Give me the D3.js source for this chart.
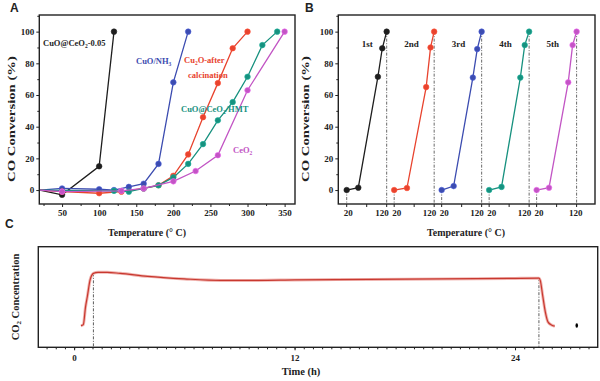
<!DOCTYPE html>
<html>
<head>
<meta charset="utf-8">
<script src="https://cdn.jsdelivr.net/npm/d3@7"></script>
<style>
  body { margin: 0; background: #fff; }
  svg text { font-family: "Liberation Serif", "DejaVu Serif", serif; font-weight: bold; }
</style>
</head>
<body>
<div id="chart"></div>
<script>
// ---- panel A: light-off curves of the five catalysts ----
var aNames  = ["CuO@CeO2-0.05", "CuO/NH3", "Cu2O-after calcination", "CuO@CeO2/HMT", "CeO2"];
var aColors = ["#1e1e1e", "#3c4cb0", "#e8432e", "#17917f", "#c255c4"];
var aTemps = [
  [20, 50, 100, 120],
  [20, 50, 100, 120, 140, 160, 180, 200, 220],
  [20, 50, 100, 130, 160, 180, 200, 220, 240, 260, 280, 300],
  [20, 120, 140, 160, 180, 200, 220, 240, 260, 280, 300, 320, 340],
  [20, 50, 130, 160, 200, 230, 260, 300, 350]
];
var aConv = [
  [0, -3, 15, 100],
  [0, 1, 0.5, 0, 2, 4, 16.5, 68, 100],
  [0, -1, -2, -1, 1, 3, 9, 22.5, 46, 67.5, 89.5, 100],
  [0, -0.5, -1, 1, 3, 8, 16.5, 29, 44, 55.5, 71.5, 91.5, 100],
  [0, -1, -0.5, 1, 5.5, 12, 22, 63, 100]
];
var aTicksX = [50, 100, 150, 200, 250, 300, 350];
var convTicks = [0, 20, 40, 60, 80, 100];

// ---- panel B: five repeated runs, each 20 -> 120 C ----
var bCycles = ["1st", "2nd", "3rd", "4th", "5th"];
var bColors = ["#1e1e1e", "#e8432e", "#3c4cb0", "#17917f", "#c255c4"];
var bTemps = [
  [20, 49, 98, 109, 120],
  [20, 52, 100, 111, 120],
  [20, 50, 98, 109, 120],
  [20, 51, 98, 109, 120],
  [20, 51, 99, 110, 120]
];
var bConv = [
  [0, 1.5, 71.5, 89.5, 100],
  [0, 1.3, 65, 90, 100],
  [0, 2.5, 71, 89, 100],
  [0, 2, 71, 91.5, 100],
  [0, 1.5, 68, 91.5, 100]
];
var bTickTemps = [20, 120];

// ---- panel C: CO2 concentration over 26 h ----
var cTime = [0.37, 0.5, 0.62, 0.72, 0.87, 1.05, 1.3, 1.8, 2.5, 4, 6, 8, 10, 12, 16, 20, 24, 25.3, 25.38, 25.5, 25.65, 25.8, 26.0, 26.16];
var cConc = [21.5, 22.5, 40, 50.5, 67, 73.5, 74.5, 74.5, 73.5, 70.5, 68, 66.5, 66.5, 67, 67.5, 68, 68.5, 68.7, 66, 52, 35, 25, 22, 21];
var cMarks = [1.05, 25.3];
var cTicks = [0, 12, 24];

var width = 600, height = 381;
var svg = d3.select("#chart").append("svg").attr("width", width).attr("height", height);

var yConv = d3.scaleLinear().domain([-8.8, 110.5]).range([204, 15]);

function frame(x0, x1, y0, y1) {
  svg.append("rect").attr("x", x0).attr("y", y0).attr("width", x1 - x0).attr("height", y1 - y0)
    .attr("fill", "none").attr("stroke", "#222").attr("stroke-width", 1.4);
}

// subscripted label helper: parts = [[text, isSub], ...]
function label(x, y, parts, color, size, anchor) {
  var t = svg.append("text").attr("x", x).attr("y", y).attr("fill", color)
    .attr("font-size", size).attr("text-anchor", anchor || "start");
  parts.forEach(function(p) {
    if (p[1]) t.append("tspan").attr("font-size", size * 0.65).attr("dy", 2).text(p[0]);
    else t.append("tspan").attr("dy", p[2] || 0).text(p[0]);
  });
  return t;
}

function yAxisConv(x0) {
  var g = svg.append("g").attr("transform", "translate(" + x0 + ",0)")
    .call(d3.axisLeft(yConv).tickValues(convTicks).tickSize(3).tickPadding(2).tickFormat(d3.format("d")));
  g.select(".domain").remove();
  g.selectAll("text").attr("font-size", 9).attr("fill", "#222").style("font-family", "Liberation Serif").style("font-weight", "bold");
  g.selectAll("line").attr("stroke", "#222");
  var m = svg.append("g").attr("transform", "translate(" + x0 + ",0)")
    .call(d3.axisLeft(yConv).tickValues([-10, 10, 30, 50, 70, 90, 110].filter(function(v){ return v > -8.8 && v < 110.5; })).tickSize(2).tickFormat(""));
  m.select(".domain").remove();
  m.selectAll("line").attr("stroke", "#222");
}

// ================= Panel A =================
var xA = d3.scaleLinear().domain([19.3, 364]).range([39.3, 295]);
var clipA = svg.append("clipPath").attr("id", "clipA").append("rect")
  .attr("x", 39.3).attr("y", 15).attr("width", 295 - 39.3).attr("height", 204 - 15);

var lineA = d3.line().x(function(d) { return xA(d[0]); }).y(function(d) { return yConv(d[1]); });
var gA = svg.append("g").attr("clip-path", "url(#clipA)");
aNames.forEach(function(name, i) {
  var pts = aTemps[i].map(function(t, j) { return [t, aConv[i][j]]; });
  gA.append("path").datum(pts).attr("d", lineA).attr("fill", "none")
    .attr("stroke", aColors[i]).attr("stroke-width", 1.3);
  gA.selectAll(null).data(pts.slice(1)).enter().append("circle")
    .attr("cx", function(d) { return xA(d[0]); }).attr("cy", function(d) { return yConv(d[1]); })
    .attr("r", 2.8).attr("fill", aColors[i]).attr("stroke", d3.color(aColors[i]).brighter(0.6)).attr("stroke-width", 0.6);
});

frame(39.3, 295, 15, 204);
yAxisConv(39.3);
var axA = svg.append("g").attr("transform", "translate(0,204)")
  .call(d3.axisBottom(xA).tickValues(aTicksX).tickSize(3).tickPadding(3));
axA.select(".domain").remove();
axA.selectAll("text").attr("font-size", 9).attr("fill", "#222").style("font-family", "Liberation Serif").style("font-weight", "bold");
axA.selectAll("line").attr("stroke", "#222");
var mA = svg.append("g").attr("transform", "translate(0,204)")
  .call(d3.axisBottom(xA).tickValues([25, 75, 125, 175, 225, 275, 325]).tickSize(2).tickFormat(""));
mA.select(".domain").remove();
mA.selectAll("line").attr("stroke", "#222");

// series labels
label(43, 46, [["CuO@CeO"], ["2", true], ["-0.05", false, -2]], aColors[0], 8.5);
label(136, 64, [["CuO/NH"], ["3", true]], aColors[1], 8.5);
label(184, 63, [["Cu"], ["2", true], ["O-after", false, -2]], aColors[2], 8.5);
label(188, 78, [["calcination"]], aColors[2], 8.5);
label(181, 112, [["CuO@CeO"], ["2", true], ["/HMT", false, -2]], aColors[3], 8.5);
label(233, 153, [["CeO"], ["2", true]], aColors[4], 8.5);

svg.append("text").attr("x", 10).attr("y", 12).attr("font-size", 12).attr("fill", "#222")
  .style("font-family", "Liberation Sans").text("A");
svg.append("text").attr("transform", "translate(15,119) rotate(-90)").attr("text-anchor", "middle")
  .attr("font-size", 11).attr("fill", "#222").attr("textLength", 126).attr("lengthAdjust", "spacingAndGlyphs")
  .text("CO Conversion (%)");
svg.append("text").attr("x", 147).attr("y", 236).attr("text-anchor", "middle")
  .attr("font-size", 10.5).attr("fill", "#222").attr("textLength", 78).attr("lengthAdjust", "spacingAndGlyphs")
  .text("Temperature (° C)");

// ================= Panel B =================
var cycleSpan = 118.75;   // one run of 100 C plus the gap to the next run
var xB = d3.scaleLinear().domain([-21, 621]).range([338.3, 595]);
function bPos(ci, t) { return xB(ci * cycleSpan + (t - 20)); }

var dash = "3,1.5,1,1.5";
bCycles.forEach(function(name, ci) {
  // dash-dot guides at the start and end temperatures
  svg.append("line").attr("x1", bPos(ci, 20)).attr("x2", bPos(ci, 20))
    .attr("y1", yConv(bConv[ci][0])).attr("y2", 204)
    .attr("stroke", "#444").attr("stroke-width", 0.8).attr("stroke-dasharray", dash);
  svg.append("line").attr("x1", bPos(ci, 120)).attr("x2", bPos(ci, 120))
    .attr("y1", yConv(100)).attr("y2", 204)
    .attr("stroke", "#444").attr("stroke-width", 0.8).attr("stroke-dasharray", dash);

  var pts = bTemps[ci].map(function(t, j) { return [bPos(ci, t), yConv(bConv[ci][j])]; });
  svg.append("path").datum(pts).attr("d", d3.line()).attr("fill", "none")
    .attr("stroke", bColors[ci]).attr("stroke-width", 1.3);
  svg.selectAll(null).data(pts).enter().append("circle")
    .attr("cx", function(d) { return d[0]; }).attr("cy", function(d) { return d[1]; })
    .attr("r", 2.8).attr("fill", bColors[ci]).attr("stroke", d3.color(bColors[ci]).brighter(0.6)).attr("stroke-width", 0.6);

  svg.append("text").attr("x", bPos(ci, 20) + 15 - (ci === 0 ? 0 : 5)).attr("y", 47)
    .attr("font-size", 9).attr("fill", "#222").text(name);

  // tick marks and labels on the bottom axis
  [20, 70, 120].forEach(function(t) {
    svg.append("line").attr("x1", bPos(ci, t)).attr("x2", bPos(ci, t)).attr("y1", 204).attr("y2", 207)
      .attr("stroke", "#222");
  });
  svg.append("text").attr("x", bPos(ci, 20) + (ci === 0 ? -3 : -2)).attr("y", 216)
    .attr("font-size", 9).attr("fill", "#222").attr("text-anchor", "start").text(String(bTickTemps[0]));
  svg.append("text").attr("x", bPos(ci, 120) + (ci === 4 ? 6 : 2)).attr("y", 216)
    .attr("font-size", 9).attr("fill", "#222").attr("text-anchor", "end").text(String(bTickTemps[1]));
});

frame(338.3, 595, 15, 204);
yAxisConv(338.3);

svg.append("text").attr("x", 305).attr("y", 12).attr("font-size", 12).attr("fill", "#222")
  .style("font-family", "Liberation Sans").text("B");
svg.append("text").attr("transform", "translate(309,119) rotate(-90)").attr("text-anchor", "middle")
  .attr("font-size", 11).attr("fill", "#222").attr("textLength", 126).attr("lengthAdjust", "spacingAndGlyphs")
  .text("CO Conversion (%)");
svg.append("text").attr("x", 466).attr("y", 236).attr("text-anchor", "middle")
  .attr("font-size", 10.5).attr("fill", "#222").attr("textLength", 78).attr("lengthAdjust", "spacingAndGlyphs")
  .text("Temperature (° C)");

// ================= Panel C =================
var xC = d3.scaleLinear().domain([-1.95, 28.5]).range([38.3, 597.7]);
var yC = d3.scaleLinear().domain([0, 100]).range([347.3, 246.7]);

cMarks.forEach(function(t) {
  var i = cTime.indexOf(t);
  svg.append("line").attr("x1", xC(t)).attr("x2", xC(t)).attr("y1", yC(cConc[i])).attr("y2", 347.3)
    .attr("stroke", "#333").attr("stroke-width", 0.8).attr("stroke-dasharray", dash);
});

var cPts = cTime.map(function(t, i) { return [t, cConc[i]]; });
var lineC = d3.line().x(function(d) { return xC(d[0]); }).y(function(d) { return yC(d[1]); }).curve(d3.curveMonotoneX);
svg.append("path").datum(cPts).attr("d", lineC).attr("fill", "none")
  .attr("stroke", "#f0b4b0").attr("stroke-width", 3);
svg.append("path").datum(cPts).attr("d", lineC).attr("fill", "none")
  .attr("stroke", "#c8382f").attr("stroke-width", 1.2);

svg.append("ellipse").attr("cx", xC(27.36)).attr("cy", yC(21.6)).attr("rx", 1.3).attr("ry", 2.2).attr("fill", "#000");

frame(38.3, 597.7, 246.7, 347.3);
var axC = svg.append("g").attr("transform", "translate(0,347.3)")
  .call(d3.axisBottom(xC).tickValues(cTicks).tickSize(3).tickPadding(4));
axC.select(".domain").remove();
axC.selectAll("text").attr("font-size", 9).attr("fill", "#222").style("font-family", "Liberation Serif").style("font-weight", "bold");
axC.selectAll("line").attr("stroke", "#222");
var mC = svg.append("g").attr("transform", "translate(0,347.3)")
  .call(d3.axisBottom(xC).tickValues(d3.range(-1.5, 28.5, 0.5)).tickSize(2).tickFormat(""));
mC.select(".domain").remove();
mC.selectAll("line").attr("stroke", "#222");

svg.append("text").attr("x", 5).attr("y", 228).attr("font-size", 12).attr("fill", "#222")
  .style("font-family", "Liberation Sans").text("C");
var cy = svg.append("text").attr("transform", "translate(19,297) rotate(-90)").attr("text-anchor", "middle")
  .attr("font-size", 10.5).attr("fill", "#222");
cy.append("tspan").text("CO");
cy.append("tspan").attr("font-size", 7).attr("dy", 2).text("2");
cy.append("tspan").attr("dy", -2).text(" Concentration");
svg.append("text").attr("x", 301).attr("y", 375).attr("text-anchor", "middle")
  .attr("font-size", 10.5).attr("fill", "#222").text("Time (h)");
</script>
</body>
</html>
